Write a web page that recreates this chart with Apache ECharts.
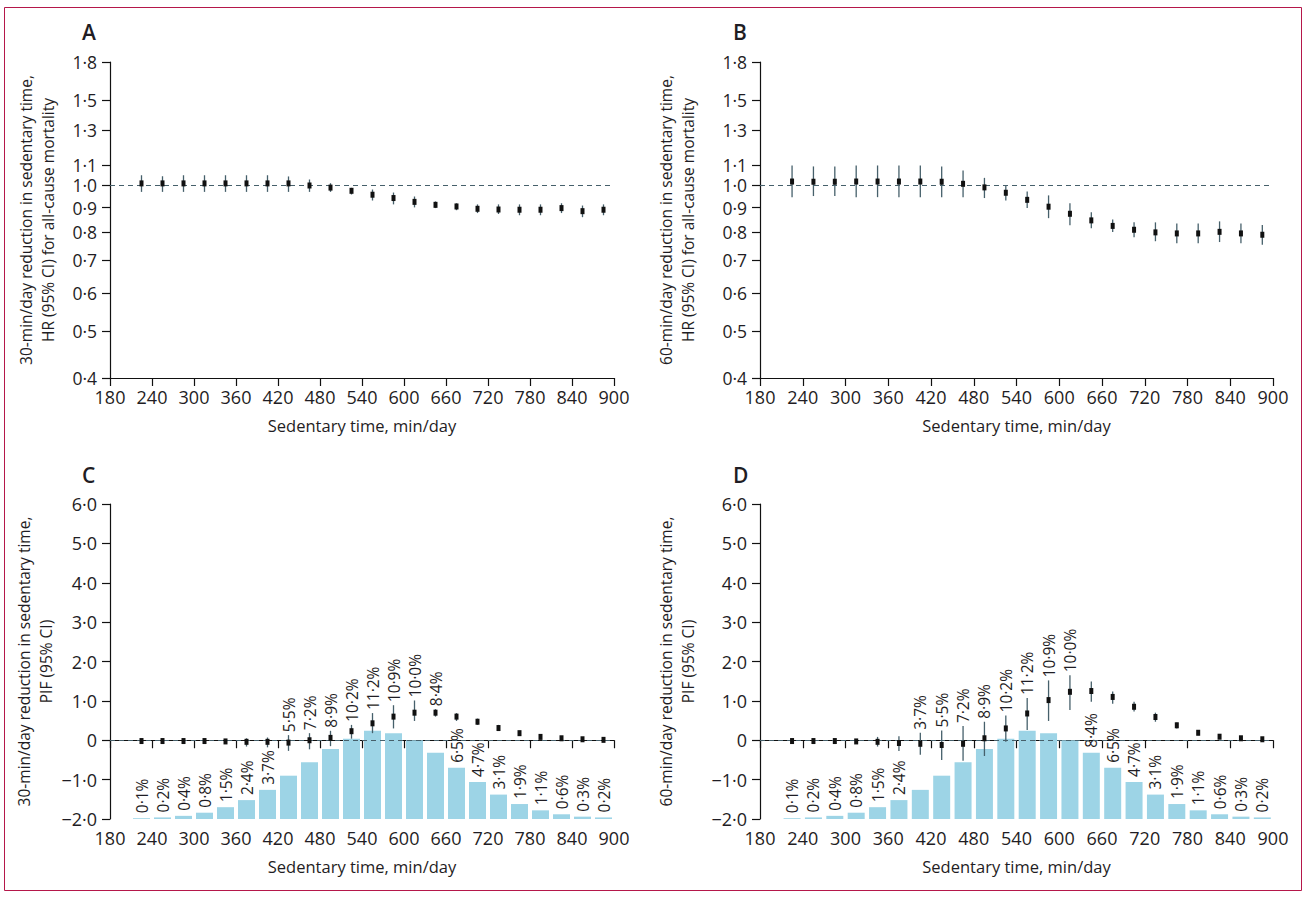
<!DOCTYPE html>
<html><head><meta charset="utf-8">
<script src="https://cdn.jsdelivr.net/npm/echarts@6/dist/echarts.min.js"></script>
<style>html,body{margin:0;padding:0;background:#fff}#c{width:1308px;height:898px}</style>
</head><body><div id="c"></div>
<script>
// ---- data ----
const sedentaryMid = [225,255,285,315,345,375,405,435,465,495,525,555,585,615,645,675,705,735,765,795,825,855,885];
const hrTicks = [0.4,0.5,0.6,0.7,0.8,0.9,1.0,1.1,1.3,1.5,1.8];
const pifTicks = [-2,-1,0,1,2,3,4,5,6];

const hrA = [1.01,1.01,1.01,1.01,1.01,1.01,1.01,1.01,1.00,0.99,0.975,0.957,0.942,0.925,0.912,0.905,0.895,0.892,0.891,0.891,0.898,0.885,0.891];
const loA = [0.97,0.97,0.97,0.97,0.97,0.97,0.97,0.97,0.97,0.97,0.958,0.931,0.914,0.901,0.898,0.889,0.877,0.873,0.868,0.868,0.877,0.860,0.868];
const hiA = [1.05,1.045,1.05,1.05,1.05,1.05,1.05,1.044,1.029,1.011,0.989,0.981,0.967,0.949,0.927,0.919,0.914,0.914,0.914,0.914,0.919,0.909,0.914];

const hrB = [1.019,1.018,1.018,1.019,1.019,1.019,1.019,1.018,1.008,0.991,0.966,0.934,0.904,0.874,0.847,0.825,0.810,0.800,0.796,0.796,0.802,0.796,0.791];
const loB = [0.946,0.951,0.951,0.946,0.946,0.946,0.946,0.946,0.946,0.942,0.931,0.898,0.856,0.828,0.816,0.801,0.782,0.767,0.760,0.760,0.764,0.760,0.754];
const hiB = [1.100,1.095,1.095,1.100,1.100,1.100,1.100,1.095,1.074,1.037,0.997,0.972,0.954,0.919,0.880,0.851,0.839,0.839,0.835,0.835,0.843,0.835,0.829];

const pifC = [-0.02,-0.02,-0.02,-0.02,-0.03,-0.04,-0.04,-0.06,0.0,0.06,0.23,0.43,0.60,0.70,0.70,0.60,0.47,0.31,0.18,0.085,0.05,0.025,0.01];
const loC  = [-0.03,-0.03,-0.03,-0.04,-0.07,-0.16,-0.18,-0.27,-0.23,-0.15,0.04,0.18,0.30,0.49,0.60,0.49,0.39,0.24,0.13,0.05,0.03,0.01,0.0];
const hiC  = [-0.01,-0.01,-0.01,-0.01,0.01,0.05,0.07,0.13,0.18,0.24,0.39,0.69,0.89,1.01,0.79,0.69,0.55,0.39,0.24,0.12,0.07,0.04,0.02];

const pifD = [-0.02,-0.02,-0.02,-0.03,-0.04,-0.07,-0.09,-0.12,-0.09,0.05,0.30,0.68,1.02,1.23,1.25,1.10,0.85,0.59,0.38,0.19,0.09,0.05,0.025];
const loD  = [-0.03,-0.03,-0.03,-0.06,-0.16,-0.27,-0.37,-0.50,-0.52,-0.40,-0.04,0.26,0.49,0.77,0.98,0.93,0.73,0.47,0.30,0.13,0.06,0.03,0.0];
const hiD  = [-0.01,-0.01,-0.01,0.0,0.085,0.10,0.19,0.25,0.36,0.47,0.63,1.07,1.52,1.65,1.49,1.24,0.98,0.70,0.45,0.25,0.12,0.07,0.05];

// share of person-time in each sedentary-time band (%)
const distPct = [0.1,0.2,0.4,0.8,1.5,2.4,3.7,5.5,7.2,8.9,10.2,11.2,10.9,10.0,8.4,6.5,4.7,3.1,1.9,1.1,0.6,0.3,0.2];
// which percentage labels sit above the CI instead of the bar
const labelOnCI_C = [0,0,0,0,0,0,0,1,1,1,1,1,1,1,1,0,0,0,0,0,0,0,0];
const labelOnCI_D = [0,0,0,0,0,0,1,1,1,1,1,1,1,1,0,0,0,0,0,0,0,0,0];

// ---- styling ----
const FONT = '"Open Sans", "Noto Sans", sans-serif';
const TXT = '#1f1d24';
const CI_COL = '#46606b';
const BAR_COL = '#9dd4e6';
const dot = s => s.replace('.', '\u00b7');
const fmtHR = v => dot((+v).toFixed(1));
const fmtPIF = v => { v = +v; if (Math.abs(v) < 1e-9) return '0'; return (v < 0 ? '\u2212' : '') + dot(Math.abs(v).toFixed(1)); };
const fmtPct = v => dot((+v).toFixed(1)) + '%';
const PCT_SIZE = 15.5;

function errRender(params, api) {
  const x = api.value(0), m = api.value(1), lo = api.value(2), hi = api.value(3);
  const flag = api.value(4), pct = api.value(5);
  const pLo = api.coord([x, lo]), pHi = api.coord([x, hi]), pM = api.coord([x, m]);
  const children = [
    {type:'line', shape:{x1:pLo[0], y1:pLo[1], x2:pHi[0], y2:pHi[1]}, style:{stroke:CI_COL, lineWidth:1.3}},
    {type:'rect', shape:{x:pM[0]-2, y:pM[1]-3, width:4, height:6}, style:{fill:'#111'}}
  ];
  if (flag) {
    children.push({type:'text', x:pHi[0], y:Math.min(pHi[1], pM[1]-3)-3, rotation:Math.PI/2,
      style:{text:fmtPct(pct), fill:TXT, fontSize:PCT_SIZE, fontFamily:FONT, align:'left', verticalAlign:'middle'}});
  }
  return {type:'group', children};
}

function errData(m, lo, hi, flags) {
  return sedentaryMid.map((x, i) => [x, m[i], lo[i], hi[i], flags ? flags[i] : 0, distPct[i]]);
}
function barData(flags) {
  return sedentaryMid.map((x, i) => ({value:[x, distPct[i]], label:{show: !flags[i]}}));
}

const grids = [
  {left:110, top:62, width:504, height:316},
  {left:760, top:62, width:513, height:316},
  {left:110, top:504, width:504, height:315},
  {left:760, top:504, width:513, height:315}
];

function xAxis(gi) {
  return {type:'value', gridIndex:gi, min:180, max:900, interval:60,
    name:'Sedentary time, min/day', nameLocation:'middle', nameGap:39,
    nameTextStyle:{color:TXT, fontSize:16.5, fontFamily:FONT},
    axisLine:{lineStyle:{color:'#111', width:1.2}},
    axisTick:{length:8, lineStyle:{color:'#111', width:1.2}},
    axisLabel:{color:TXT, fontSize:18, fontFamily:FONT, margin:10},
    splitLine:{show:false}};
}
const yNameStyle = {color:TXT, fontSize:15.5, fontFamily:FONT, lineHeight:22};
function hrAxis(gi, name, gap) {
  return {type:'log', gridIndex:gi, min:0.4, max:1.8, logBase:10,
    name, nameLocation:'middle', nameRotate:90, nameGap:gap, nameTextStyle:yNameStyle,
    axisLine:{show:true, lineStyle:{color:'#111', width:1.2}},
    axisTick:{show:true, length:8, customValues:hrTicks, lineStyle:{color:'#111', width:1.2}},
    axisLabel:{color:TXT, fontSize:17.5, lineHeight:15, fontFamily:FONT, margin:13, customValues:hrTicks, formatter:fmtHR},
    splitLine:{show:false}, minorTick:{show:false}};
}
function pifAxis(gi, name, gap) {
  return {type:'value', gridIndex:gi, min:-2, max:6, interval:1,
    name, nameLocation:'middle', nameRotate:90, nameGap:gap, nameTextStyle:yNameStyle,
    axisLine:{show:true, lineStyle:{color:'#111', width:1.2}},
    axisTick:{show:true, length:8, lineStyle:{color:'#111', width:1.2}},
    axisLabel:{color:TXT, fontSize:18, lineHeight:16, fontFamily:FONT, margin:13, formatter:fmtPIF},
    splitLine:{show:false}};
}
function pctAxis(gi) {
  return {type:'value', gridIndex:gi, min:0, max:40, show:false, splitLine:{show:false}};
}

const refLine = y => ({silent:true, symbol:'none', label:{show:false},
  lineStyle:{color:CI_COL, type:[5,4], width:1.1}, data:[{yAxis:y}]});

function errSeries(xi, yi, data, ref) {
  return {type:'custom', xAxisIndex:xi, yAxisIndex:yi, renderItem:errRender, data,
    encode:{x:0, y:[1,2,3]}, z:5, markLine:refLine(ref), animation:false};
}
function barSeries(xi, yi, flags) {
  return {type:'bar', xAxisIndex:xi, yAxisIndex:yi, data:barData(flags), barWidth:17,
    itemStyle:{color:BAR_COL}, z:2, animation:false,
    label:{show:true, position:'top', rotate:90, align:'left', verticalAlign:'middle', distance:5,
      color:TXT, fontSize:PCT_SIZE, fontFamily:FONT, formatter:p => fmtPct(p.value[1])}};
}

const letter = (t, x, y) => ({type:'text', left:x, top:y,
  style:{text:t, fill:TXT, fontSize:21, fontWeight:600, fontFamily:FONT}});

const option = {
  backgroundColor:'#fff',
  animation:false,
  grid: grids,
  xAxis: [xAxis(0), xAxis(1), xAxis(2), xAxis(3)],
  yAxis: [
    hrAxis(0, '30-min/day reduction in sedentary time,\nHR (95% CI) for all-cause mortality', 51),
    hrAxis(1, '60-min/day reduction in sedentary time,\nHR (95% CI) for all-cause mortality', 61),
    pifAxis(2, '30-min/day reduction in sedentary time,\nPIF (95% CI)', 51),
    pctAxis(2),
    pifAxis(3, '60-min/day reduction in sedentary time,\nPIF (95% CI)', 61),
    pctAxis(3)
  ],
  series: [
    errSeries(0, 0, errData(hrA, loA, hiA), 1),
    errSeries(1, 1, errData(hrB, loB, hiB), 1),
    barSeries(2, 3, labelOnCI_C),
    errSeries(2, 2, errData(pifC, loC, hiC, labelOnCI_C), 0),
    barSeries(3, 5, labelOnCI_D),
    errSeries(3, 4, errData(pifD, loD, hiD, labelOnCI_D), 0)
  ],
  graphic: [
    {type:'rect', shape:{x:4.5, y:7.5, width:1297, height:883}, style:{fill:'none', stroke:'#b5174a', lineWidth:1}, silent:true},
    letter('A', 82, 21), letter('B', 733, 21), letter('C', 82, 464), letter('D', 733, 464)
  ]
};

const chart = echarts.init(document.getElementById('c'), null, {renderer:'svg'});
chart.setOption(option);
</script>
</body></html>
